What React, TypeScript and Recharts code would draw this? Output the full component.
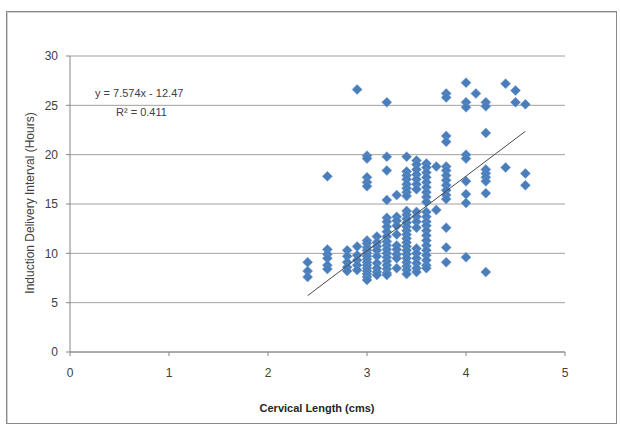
import React from 'react';
import {
  ScatterChart,
  Scatter,
  XAxis,
  YAxis,
  CartesianGrid,
} from 'recharts';

// Cervical length columns (cms) and the induction-delivery intervals (hours) read at each
const cervicalLengths = [2.4, 2.6, 2.8, 2.9, 3.0, 3.1, 3.2, 3.3, 3.4, 3.5, 3.6, 3.7, 3.8, 4.0, 4.1, 4.2, 4.4, 4.5, 4.6];

const intervals: number[][] = [
  [9.1, 8.2, 7.6],
  [17.8, 10.4, 9.9, 9.5, 8.8, 8.4],
  [10.3, 9.7, 9.1, 8.6, 8.2],
  [26.6, 10.7, 9.8, 9.3, 8.8, 8.3],
  [19.9, 19.6, 17.7, 17.2, 16.8, 11.3, 11.0, 10.6, 10.3, 10.0, 9.7, 9.4, 9.1, 8.8, 8.5, 8.2, 7.9, 7.6, 7.3],
  [11.7, 11.1, 10.7, 10.3, 9.7, 9.0, 8.5, 8.1, 7.8],
  [25.3, 19.8, 18.4, 15.4, 13.6, 13.2, 12.7, 12.2, 11.7, 11.2, 10.8, 10.4, 10.0, 9.6, 9.2, 8.8, 8.4, 8.0, 7.8],
  [15.9, 13.7, 13.3, 12.8, 11.9, 10.8, 10.4, 9.9, 9.5, 8.5],
  [19.8, 18.3, 17.9, 17.5, 17.0, 16.6, 16.2, 15.8, 14.3, 13.9, 13.5, 13.1, 12.7, 12.3, 11.9, 11.5, 11.1, 10.7, 10.3, 9.9, 9.5, 9.1, 8.7, 8.3, 7.9],
  [19.4, 19.0, 18.5, 18.0, 17.5, 17.0, 16.5, 14.2, 13.7, 13.2, 12.6, 10.5, 10.0, 9.5, 9.0, 8.5, 8.1],
  [19.1, 18.7, 18.2, 17.7, 17.2, 16.7, 16.2, 15.7, 15.2, 14.2, 13.7, 13.2, 12.8, 12.3, 11.8, 11.3, 10.8, 10.3, 9.8, 9.3, 8.8, 8.5],
  [18.8, 14.4],
  [26.2, 25.8, 21.9, 21.3, 18.8, 18.4, 17.9, 17.4, 16.9, 16.4, 15.9, 15.5, 12.6, 10.6, 9.1],
  [27.3, 25.3, 24.8, 20.0, 19.6, 17.3, 16.0, 15.1, 9.6],
  [26.2],
  [25.3, 24.9, 22.2, 18.5, 18.1, 17.7, 17.3, 16.1, 8.1],
  [27.2, 18.7],
  [26.5, 25.3],
  [25.1, 18.1, 16.9],
];

const xTicks = [0, 1, 2, 3, 4, 5];
const yTicks = [0, 5, 10, 15, 20, 25, 30];

// linear trendline fitted in the original
const slope = 7.574;
const intercept = -12.47;
const trendRange = [2.4, 4.6];

const points = cervicalLengths.flatMap((x, i) => intervals[i].map(y => ({ x, y })));
const trendData = trendRange.map(x => ({ x, y: slope * x + intercept }));

const Diamond = (props: any) => {
  const { cx, cy } = props;
  const r = 5;
  return (
    <polygon
      points={`${cx},${cy - r} ${cx + r},${cy} ${cx},${cy + r} ${cx - r},${cy}`}
      fill="#4a7ebb"
      stroke="#6f9bd1"
      strokeWidth={0.5}
    />
  );
};

const tickStyle = { fill: '#404040', fontSize: 12, fontFamily: 'Liberation Sans, sans-serif' };

const App = () => {
  return (
    <div style={{ position: 'absolute', left: 0, top: 0, width: 620, height: 428, background: '#fff' }}>
      <div
        style={{
          position: 'absolute',
          left: 6,
          top: 11,
          width: 609,
          height: 411,
          border: '1px solid #8a8a8a',
          boxShadow: 'inset 1px 1px 0 #d0d0d0',
        }}
      />
      <ScatterChart width={620} height={428} margin={{ top: 56, right: 55, bottom: 46, left: 0 }}>
        <CartesianGrid vertical={false} stroke="#a0a0a0" />
        <XAxis
          type="number"
          dataKey="x"
          domain={[0, 5]}
          ticks={xTicks}
          height={30}
          stroke="#868686"
          tickSize={4}
          tickMargin={12}
          tick={tickStyle}
        />
        <YAxis
          type="number"
          dataKey="y"
          domain={[0, 30]}
          ticks={yTicks}
          width={70}
          stroke="#868686"
          tickSize={4}
          tickMargin={8}
          tick={tickStyle}
        />
        <Scatter data={points} shape={<Diamond />} isAnimationActive={false} />
        <Scatter
          data={trendData}
          line={{ stroke: '#4a4a4a', strokeWidth: 1 }}
          shape={() => <g />}
          isAnimationActive={false}
        />
      </ScatterChart>
      <div
        style={{
          position: 'absolute',
          left: 30,
          top: 203,
          transform: 'translate(-50%, -50%) rotate(-90deg)',
          whiteSpace: 'nowrap',
          fontFamily: 'Liberation Sans, sans-serif',
          fontSize: 12,
          color: '#404040',
        }}
      >
        Induction Delivery Interval (Hours)
      </div>
      <div
        style={{
          position: 'absolute',
          left: 317,
          top: 408,
          transform: 'translate(-50%, -50%)',
          whiteSpace: 'nowrap',
          fontFamily: 'Liberation Sans, sans-serif',
          fontSize: 11,
          fontWeight: 'bold',
          color: '#262626',
        }}
      >
        Cervical Length (cms)
      </div>
      <div
        style={{
          position: 'absolute',
          left: 95,
          top: 84,
          whiteSpace: 'nowrap',
          fontFamily: 'Liberation Sans, sans-serif',
          fontSize: 11,
          color: '#404040',
          lineHeight: '19px',
        }}
      >
        <div>y = 7.574x - 12.47</div>
        <div style={{ paddingLeft: 21 }}>R² = 0.411</div>
      </div>
    </div>
  );
};

export default App;
